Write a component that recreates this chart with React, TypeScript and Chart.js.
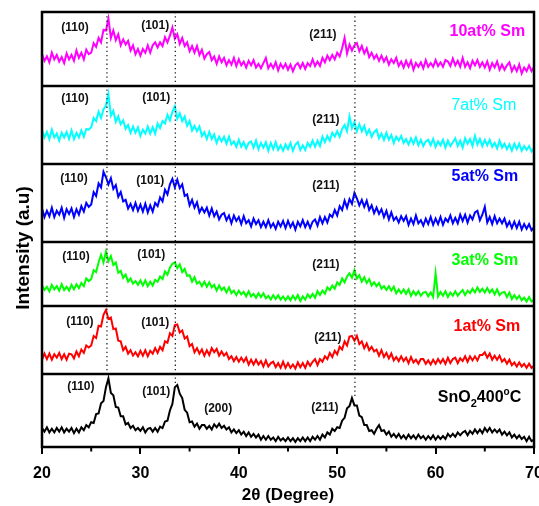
import React, { useEffect, useRef } from "react";
import { Chart, registerables } from "chart.js";

Chart.register(...registerables);

// 2θ sampling: 20° → 70°, 0.25° step
const TWO_THETA_START = 20;
const TWO_THETA_STEP = 0.25;
const X_TICKS = [20, 30, 40, 50, 60, 70];

// Intensities (a.u., 0-100 within each panel)
const sm10 = [
  43,34,40,32,45,36,42,33,39,31,44,36,42,34,48,38,45,36,49,43,
  45,58,53,65,59,76,75,91,65,75,62,70,55,63,56,61,48,55,43,50,
  41,50,45,55,45,55,59,52,59,54,66,59,68,79,64,70,57,65,54,59,
  47,54,45,54,42,49,37,43,46,35,40,30,40,32,38,28,35,29,38,27,
  36,28,33,25,34,28,35,25,30,24,31,38,24,30,24,32,21,30,24,30,
  22,29,20,28,31,24,31,23,31,27,36,27,33,27,38,32,41,35,42,36,
  45,40,51,65,44,56,48,55,58,47,54,44,51,39,45,37,42,34,41,33,
  39,29,36,31,38,27,33,25,34,26,34,22,31,26,32,24,35,26,31,26,
  35,27,32,26,35,33,27,37,28,34,26,38,26,32,24,34,28,35,26,32,
  25,33,22,31,25,33,22,29,22,28,32,20,27,20,29,17,25,20,28,20,
  26,
];
const sm7 = [
  44,34,41,32,44,34,39,30,40,34,41,32,43,32,40,34,43,35,45,44,
  47,59,55,67,59,70,75,90,62,68,54,61,51,56,45,50,40,48,40,47,
  36,44,39,48,39,47,39,52,46,55,52,63,56,67,74,58,65,55,61,49,
  55,43,49,42,48,36,41,32,41,32,38,27,35,29,35,26,35,25,29,22,
  31,22,28,20,27,29,21,30,19,27,21,28,17,27,19,28,18,24,17,25,
  19,27,17,25,28,18,24,18,27,22,30,22,30,23,35,28,36,30,40,35,
  42,35,45,50,42,61,46,54,42,51,42,49,38,44,35,41,44,33,39,31,
  40,31,37,27,35,30,36,27,32,25,33,26,34,24,31,23,29,31,24,32,
  22,29,24,31,21,30,23,28,33,23,30,21,33,26,32,23,36,25,32,23,
  31,24,31,22,27,20,30,21,26,19,25,17,26,19,26,17,23,18,23,16,
  20,
];
const sm5 = [
  43,32,40,33,44,32,40,35,44,31,42,36,43,32,42,35,46,39,50,45,
  48,64,59,75,70,90,83,74,82,68,73,58,64,52,54,43,49,41,50,40,
  48,39,49,38,47,39,50,46,57,52,67,61,74,81,70,80,69,74,59,61,
  47,54,44,51,38,44,38,44,34,43,33,39,29,35,37,28,34,24,34,27,
  32,23,33,24,28,20,30,23,28,19,26,19,28,19,24,17,26,20,27,18,
  27,19,25,16,26,20,28,19,26,18,26,29,21,32,24,32,25,35,32,41,
  34,46,41,53,44,55,49,63,56,47,54,45,53,41,47,37,44,36,42,32,
  40,29,38,28,32,25,33,27,33,22,30,23,34,24,28,21,30,23,32,22,
  30,23,32,22,30,26,34,24,31,24,35,27,35,25,34,29,38,40,28,35,
  45,25,32,23,33,24,30,24,30,20,26,18,26,18,26,16,23,17,23,15,
  19,
];
const sm3 = [
  32,25,30,23,33,26,31,24,34,25,30,24,33,26,34,28,36,31,43,39,
  42,56,53,68,80,68,85,70,78,64,68,52,55,44,49,38,43,35,39,33,
  40,32,40,31,38,32,41,38,46,42,54,49,60,66,68,59,65,53,58,47,
  48,38,45,35,38,31,38,30,37,29,33,24,32,25,29,21,29,20,24,17,
  24,18,22,15,23,15,19,13,20,14,20,12,16,10,17,11,17,10,15,9,
  15,9,16,10,17,8,15,10,18,13,19,13,23,17,24,19,29,25,32,27,
  37,33,43,37,46,51,44,56,43,48,38,45,36,42,32,37,31,36,27,31,
  25,31,24,30,20,26,20,26,19,26,16,23,17,23,16,21,22,15,21,14,
  51,15,22,16,23,14,21,16,23,16,21,25,17,24,20,27,21,29,22,27,
  21,28,21,26,18,26,17,21,22,14,21,11,17,11,16,9,13,7,14,7,
  10,
];
const sm1 = [
  21,30,22,30,21,29,24,31,22,29,21,30,29,23,33,26,36,31,42,39,
  42,56,53,71,70,87,94,81,83,66,67,49,48,35,40,30,35,27,32,26,
  34,27,35,26,34,30,38,31,40,35,48,46,60,56,72,73,61,64,52,55,
  41,44,32,38,30,36,27,35,28,38,32,37,27,33,27,31,22,26,19,25,
  18,24,18,24,14,21,14,21,14,19,11,20,11,16,18,10,16,9,18,9,
  16,9,14,8,17,10,16,9,18,12,18,22,13,22,18,26,22,31,25,34,
  29,40,36,48,42,55,56,49,56,44,48,38,45,35,40,33,36,27,35,25,
  31,23,30,20,25,19,26,19,24,16,25,17,21,15,22,22,15,20,14,21,
  15,22,16,22,15,24,16,22,24,16,23,19,26,18,26,20,26,20,28,28,
  32,24,30,21,27,21,27,18,22,15,21,13,17,11,17,11,15,9,15,9,
  12,
];
const sno2 = [
  26,21,27,20,25,20,26,21,27,20,25,21,26,19,25,20,27,23,30,27,
  34,33,45,46,60,63,82,94,74,71,55,54,42,42,31,33,26,29,23,26,
  22,27,20,25,26,21,26,21,28,26,35,36,50,59,82,85,73,67,51,47,
  34,35,28,32,25,30,30,25,29,24,31,27,32,26,29,24,27,20,24,19,
  23,17,21,15,20,14,18,13,17,10,15,10,15,10,13,8,14,9,12,8,
  13,8,12,7,12,8,13,8,13,8,14,10,15,10,17,13,20,17,25,22,
  27,26,36,40,53,56,67,57,57,43,41,30,30,22,23,18,25,30,22,23,
  17,21,14,18,13,18,12,16,11,17,12,16,11,17,12,15,10,15,11,16,
  10,15,11,15,11,18,14,18,14,20,16,20,22,16,22,18,24,19,24,19,
  26,21,26,20,24,20,24,17,21,16,20,13,17,12,16,11,14,8,14,8,
  10,
];

const SAMPLE_NAMES = ["10at% Sm", "7at% Sm", "5at% Sm", "3at% Sm", "1at% Sm", "SnO2 400°C"];
const PEAK_POSITIONS = [26.6, 33.55, 51.8];
const PEAK_HKL_110 = "(110)";
const PEAK_HKL_101 = "(101)";
const PEAK_HKL_200 = "(200)";
const PEAK_HKL_211 = "(211)";

// layout of the stacked panels (value units of the shared y axis)
const Y_MAX = 435;
const PANELS = [
  { data: sm10, base: 361, h: 74, color: "#ff00ff" },
  { data: sm7, base: 283, h: 78, color: "#00ffff" },
  { data: sm5, base: 205, h: 78, color: "#0000ff" },
  { data: sm3, base: 141, h: 64, color: "#00ff00" },
  { data: sm1, base: 73, h: 68, color: "#ff0000" },
  { data: sno2, base: 0, h: 73, color: "#000000" },
];
const DOT_ENDS = [70, 64, 49];

const FONT = '"Liberation Sans", Arial, Helvetica, sans-serif';

type Lbl = { t: string; x: number; y: number };
const PEAK_LABELS: Lbl[] = [
  { t: PEAK_HKL_110, x: 23.35, y: 419 }, { t: PEAK_HKL_101, x: 31.5, y: 421 }, { t: PEAK_HKL_211, x: 48.55, y: 412 },
  { t: PEAK_HKL_110, x: 23.35, y: 348 }, { t: PEAK_HKL_101, x: 31.6, y: 349 }, { t: PEAK_HKL_211, x: 48.85, y: 327 },
  { t: PEAK_HKL_110, x: 23.25, y: 268 }, { t: PEAK_HKL_101, x: 31.0, y: 266 }, { t: PEAK_HKL_211, x: 48.85, y: 261 },
  { t: PEAK_HKL_110, x: 23.45, y: 190 }, { t: PEAK_HKL_101, x: 31.1, y: 192 }, { t: PEAK_HKL_211, x: 48.85, y: 182 },
  { t: PEAK_HKL_110, x: 23.85, y: 125 }, { t: PEAK_HKL_101, x: 31.5, y: 124 }, { t: PEAK_HKL_211, x: 49.05, y: 109 },
  { t: PEAK_HKL_110, x: 23.95, y: 60 }, { t: PEAK_HKL_101, x: 31.6, y: 55 }, { t: PEAK_HKL_200, x: 37.9, y: 38 }, { t: PEAK_HKL_211, x: 48.75, y: 39 },
];
const SAMPLE_LABEL_POS = [
  { x: 69.1, y: 415, bold: true },
  { x: 68.2, y: 341, bold: false },
  { x: 68.4, y: 270, bold: true },
  { x: 68.4, y: 186, bold: true },
  { x: 68.6, y: 120, bold: true },
  { x: 68.7, y: 49, bold: true },
];

const annotations = {
  id: "xrdAnnotations",
  afterDatasetsDraw(chart: any) {
    const { ctx, chartArea, scales } = chart;
    const xs = scales.x;
    const ys = scales.y;
    ctx.save();
    // minor ticks (shorter)
    ctx.strokeStyle = "#000";
    ctx.lineWidth = 2;
    xs.ticks.forEach((t: any) => {
      if (X_TICKS.includes(t.value)) return;
      const x = xs.getPixelForValue(t.value);
      ctx.beginPath();
      ctx.moveTo(x, chartArea.bottom);
      ctx.lineTo(x, chartArea.bottom + 4.5);
      ctx.stroke();
    });
    // frame and panel separators
    ctx.lineWidth = 2.5;
    ctx.strokeRect(chartArea.left, chartArea.top, chartArea.right - chartArea.left, chartArea.bottom - chartArea.top);
    PANELS.forEach((p, i) => {
      if (i === 0) return;
      const y = ys.getPixelForValue(p.base + p.h);
      ctx.beginPath();
      ctx.moveTo(chartArea.left, y);
      ctx.lineTo(chartArea.right, y);
      ctx.stroke();
    });
    // peak labels
    ctx.fillStyle = "#111";
    ctx.font = `bold 12px ${FONT}`;
    ctx.textAlign = "center";
    ctx.textBaseline = "middle";
    PEAK_LABELS.forEach((l) => {
      ctx.fillText(l.t, xs.getPixelForValue(l.x), ys.getPixelForValue(l.y));
    });
    // sample labels
    ctx.textAlign = "right";
    SAMPLE_NAMES.forEach((name, i) => {
      const pos = SAMPLE_LABEL_POS[i];
      const px = xs.getPixelForValue(pos.x);
      const py = ys.getPixelForValue(pos.y);
      ctx.fillStyle = PANELS[i].color;
      ctx.font = `${pos.bold ? "bold " : ""}16px ${FONT}`;
      if (name.startsWith("SnO2")) {
        const parts = [
          { t: "SnO", size: 16, dy: 0 },
          { t: "2", size: 11, dy: 6 },
          { t: "400", size: 16, dy: 0 },
          { t: "o", size: 10, dy: -6 },
          { t: "C", size: 16, dy: 0 },
        ];
        let w = 0;
        parts.forEach((pt) => {
          ctx.font = `bold ${pt.size}px ${FONT}`;
          w += ctx.measureText(pt.t).width;
        });
        let cx = px - w;
        ctx.textAlign = "left";
        parts.forEach((pt) => {
          ctx.font = `bold ${pt.size}px ${FONT}`;
          ctx.fillText(pt.t, cx, py + pt.dy);
          cx += ctx.measureText(pt.t).width;
        });
        ctx.textAlign = "right";
      } else {
        ctx.fillText(name, px, py);
      }
    });
    // y-axis title
    ctx.fillStyle = "#000";
    ctx.font = `bold 19px ${FONT}`;
    ctx.textAlign = "center";
    ctx.translate(24, 248);
    ctx.rotate(-Math.PI / 2);
    ctx.fillText("Intensity (a.u)", 0, 0);
    ctx.restore();
  },
};

export default function App() {
  const ref = useRef<HTMLCanvasElement | null>(null);
  useEffect(() => {
    if (!ref.current) return;
    const datasets: any[] = [];
    PEAK_POSITIONS.forEach((px, i) => {
      datasets.push({
        data: [{ x: px, y: Y_MAX }, { x: px, y: DOT_ENDS[i] }],
        borderColor: "#222",
        borderWidth: 1.3,
        borderDash: [1.3, 3],
        pointRadius: 0,
        order: 0,
      });
    });
    PANELS.forEach((p) => {
      datasets.push({
        data: p.data.map((v, i) => ({ x: TWO_THETA_START + i * TWO_THETA_STEP, y: p.base + (v * p.h) / 100 })),
        borderColor: p.color,
        borderWidth: 2,
        pointRadius: 0,
        tension: 0,
        order: 1,
      });
    });
    const chart = new Chart(ref.current, {
      type: "line",
      data: { datasets },
      options: {
        responsive: false,
        animation: false,
        events: [],
        layout: { padding: { left: 42, top: 12, right: 5, bottom: 0 } },
        plugins: { legend: { display: false }, tooltip: { enabled: false } },
        scales: {
          x: {
            type: "linear",
            min: 20,
            max: 70,
            ticks: {
              stepSize: 5,
              autoSkip: false,
              maxRotation: 0,
              color: "#000",
              padding: 10,
              font: { family: FONT, size: 16, weight: "bold" },
              callback: (v: any) => (X_TICKS.includes(Number(v)) ? String(v) : ""),
            },
            grid: {
              drawOnChartArea: false,
              drawTicks: true,
              tickLength: 7,
              color: (c: any) => (c.tick && X_TICKS.includes(c.tick.value) ? "#000" : "rgba(0,0,0,0)"),
              lineWidth: 2,
            },
            border: { display: false },
            title: {
              display: true,
              text: "2θ (Degree)",
              color: "#000",
              font: { family: FONT, size: 17, weight: "bold" },
              padding: { top: 0, bottom: 0 },
            },
            afterFit: (s: any) => {
              s.height = 59;
              s.paddingLeft = 0;
              s.paddingRight = 0;
            },
          },
          y: { display: false, min: 0, max: Y_MAX },
        },
      },
      plugins: [annotations],
    });
    return () => chart.destroy();
  }, []);
  return (
    <div style={{ position: "absolute", left: 0, top: 0, width: 539, height: 506, background: "#fff" }}>
      <canvas ref={ref} width={539} height={506} />
    </div>
  );
}
